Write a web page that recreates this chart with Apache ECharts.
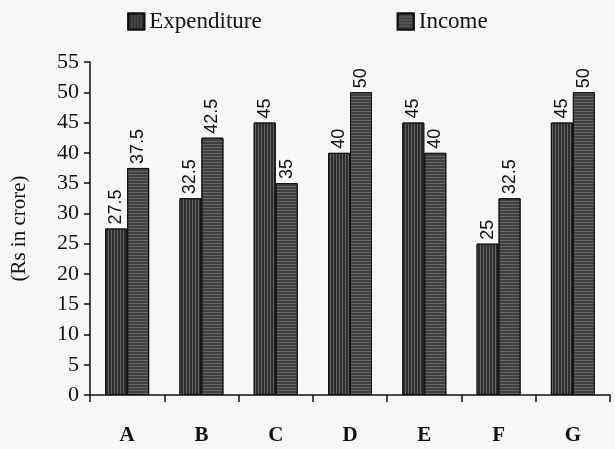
<!DOCTYPE html>
<html>
<head>
<meta charset="utf-8">
<script src="https://cdn.jsdelivr.net/npm/echarts@6/dist/echarts.min.js"></script>
<style>
  html, body { margin: 0; padding: 0; background: #f7f7f5; }
  #chart { width: 615px; height: 449px; }
</style>
</head>
<body>
<div id="chart"></div>
<script>
const categories = ["A", "B", "C", "D", "E", "F", "G"];
const expenditure = [27.5, 32.5, 45, 40, 45, 25, 45];
const income = [37.5, 42.5, 35, 50, 40, 32.5, 50];
const yTicks = [0, 55, 5]; // min, max, step

const serif = "Liberation Serif";
const sans = "Liberation Sans";

const chart = echarts.init(document.getElementById("chart"));

const labelStyle = {
  show: true,
  position: "top",
  rotate: 90,
  align: "left",
  verticalAlign: "middle",
  distance: 4,
  color: "#111",
  fontFamily: sans,
  fontSize: 18,
  formatter: (p) => String(p.value)
};

chart.setOption({
  backgroundColor: "#f7f7f5",
  animation: false,
  legend: {
    top: 5,
    left: "center",
    itemWidth: 16,
    itemHeight: 16,
    itemGap: 135,
    icon: "rect",
    textStyle: { fontFamily: serif, fontSize: 23, color: "#111" },
    data: ["Expenditure", "Income"]
  },
  grid: { left: 90, right: 5, top: 62, bottom: 54 },
  xAxis: {
    type: "category",
    data: categories,
    axisLine: { lineStyle: { color: "#111", width: 1.5 } },
    axisTick: { show: true, alignWithLabel: false, length: 7, lineStyle: { color: "#111", width: 1.5 } },
    axisLabel: { color: "#111", fontFamily: serif, fontSize: 21, fontWeight: "bold", margin: 30 }
  },
  yAxis: {
    type: "value",
    min: yTicks[0],
    max: yTicks[1],
    interval: yTicks[2],
    name: "(Rs in crore)",
    nameLocation: "middle",
    nameGap: 60,
    nameTextStyle: { fontFamily: serif, fontSize: 21, color: "#111" },
    splitLine: { show: false },
    axisLine: { show: true, lineStyle: { color: "#111", width: 1.5 } },
    axisTick: { show: true, length: 6, lineStyle: { color: "#111", width: 1.5 } },
    axisLabel: { color: "#111", fontFamily: serif, fontSize: 22, margin: 11 }
  },
  series: [
    {
      name: "Expenditure",
      type: "bar",
      data: expenditure,
      barWidth: 22,
      barGap: "0%",
      itemStyle: {
        color: "#2e2e2e",
        borderColor: "#111",
        borderWidth: 1,
        decal: { symbol: "rect", symbolSize: 1, dashArrayX: [1, 2], dashArrayY: [4, 0], color: "rgba(150,150,150,0.5)" }
      },
      label: labelStyle
    },
    {
      name: "Income",
      type: "bar",
      data: income,
      barWidth: 22,
      itemStyle: {
        color: "#404040",
        borderColor: "#111",
        borderWidth: 1,
        decal: { symbol: "rect", symbolSize: 1, dashArrayX: [4, 0], dashArrayY: [1, 2], color: "rgba(150,150,150,0.45)" }
      },
      label: labelStyle
    }
  ]
});
</script>
</body>
</html>
